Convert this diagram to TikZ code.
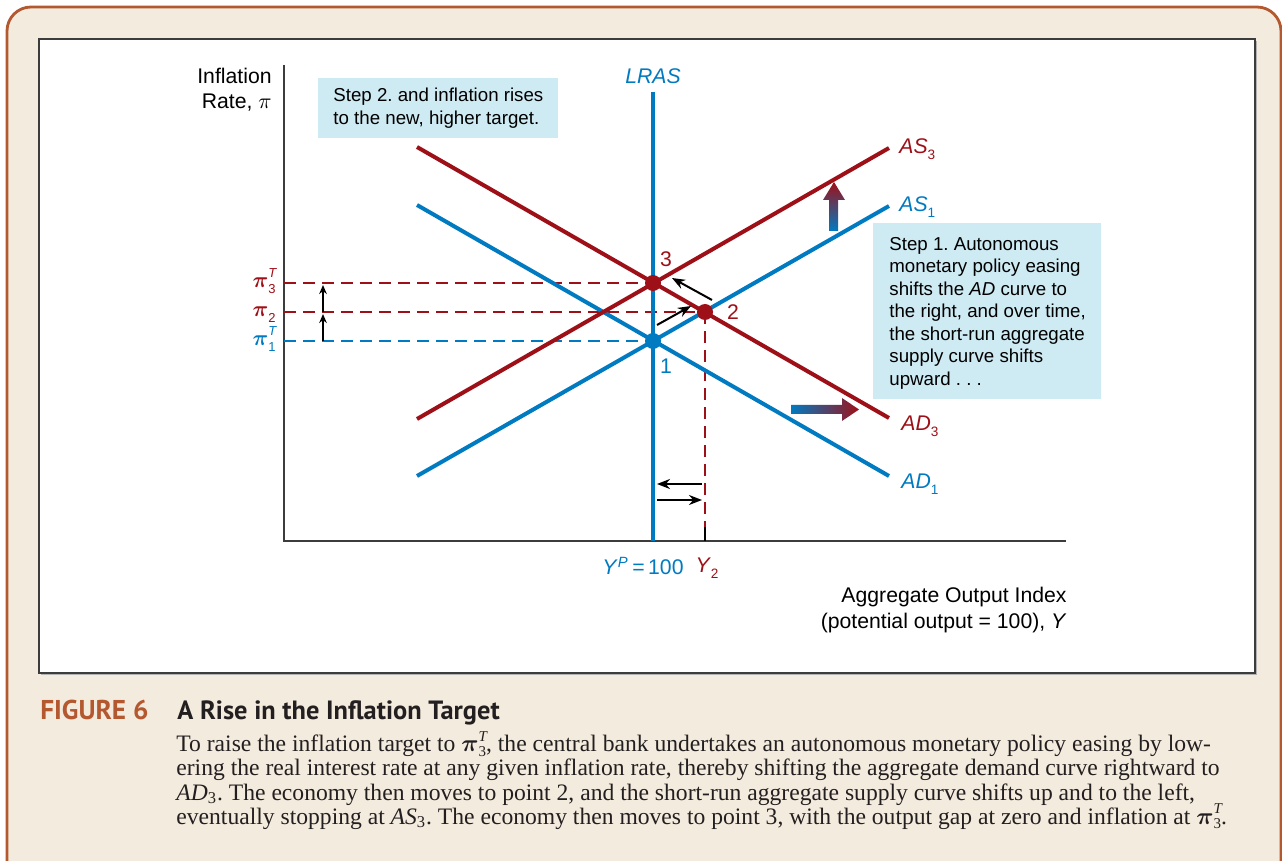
\documentclass[tikz,border=0pt]{standalone}
\usepackage{fontspec}
\usepackage{amsmath}
\usepackage{bm}
\setmainfont{Liberation Sans}
\newfontfamily\capserif{Liberation Serif}
\newfontfamily\capsans{PT Sans}
\usetikzlibrary{arrows.meta}
\definecolor{cblue}{RGB}{0,122,192}
\definecolor{cred}{RGB}{158,16,24}
\definecolor{boxblue}{RGB}{206,234,242}
\definecolor{beige}{RGB}{243,235,221}
\definecolor{framebrown}{RGB}{180,88,48}
\definecolor{axisgray}{RGB}{60,60,60}
\definecolor{captext}{RGB}{35,31,32}
\newcommand\lowsub[1]{\raisebox{-0.55ex}{\fontsize{6.8}{7}\selectfont #1}}
\newcommand\pilab[2]{$\bm{\pi}$\rlap{\raisebox{0.95ex}{\fontsize{6.5}{7}\selectfont\itshape #1}}\raisebox{-0.5ex}{\fontsize{6.5}{7}\selectfont #2}}
\newcommand\capi{$\bm{\pi}$\rlap{\raisebox{0.95ex}{\fontsize{7.5}{8}\selectfont\itshape T}}\raisebox{-0.4ex}{\fontsize{7.5}{8}\selectfont 3}}
\frenchspacing
\begin{document}
\begin{tikzpicture}[x=0.5pt,y=-0.5pt,
  curve/.style={line width=2pt},
  guide/.style={line width=0.8pt, dash pattern=on 6pt off 3.5pt},
  dot/.style={circle, inner sep=0pt, minimum size=8pt},
  lbl/.style={font=\fontsize{10.6}{12.7}\selectfont, inner sep=0pt},
  boxfill/.style={fill=boxblue, inner sep=0pt, anchor=north west},
  steptext/.style={font=\fontsize{9.35}{11.25}\selectfont, align=left, inner sep=0pt, anchor=west},
  smallarr/.style={line width=1pt, -{Stealth[length=6.5pt,width=5pt]}},
  tinyarr/.style={line width=1pt, -{Stealth[length=4.5pt,width=3.8pt]}},
  capline/.style={anchor=base west, inner sep=0pt, text=captext, font=\capserif\fontsize{11.8}{12}\selectfont}
]
\useasboundingbox (0,0) rectangle (1282,861);
\fill[white] (0,0) rectangle (1282,861);
% outer frame
\draw[framebrown, line width=1.4pt, fill=beige, rounded corners=12pt] (7,7) rectangle (1281,900);
% inner panel
\fill[black!30] (41,41) rectangle (1257,675);
\draw[axisgray, line width=0.9pt, fill=white] (39,39) rectangle (1255,673);

% axes
\coordinate (ytop) at (284,65);
\coordinate (origin) at (284,541);
\coordinate (xend) at (1066,541);
\draw[axisgray, line width=1pt] (ytop) -- (origin) -- (xend);

% curve end points
\coordinate (as1a) at (417,476); \coordinate (as1b) at (889,206);
\coordinate (as3a) at (417,419); \coordinate (as3b) at (889,148);
\coordinate (ad1a) at (417,205); \coordinate (ad1b) at (889,476);
\coordinate (ad3a) at (417,147); \coordinate (ad3b) at (889,418);
\coordinate (lrasT) at (653,92); \coordinate (lrasB) at (653,541);

% points
\coordinate (c1) at (653,341);
\coordinate (c3) at (653,283);
\coordinate (c2) at (705,312);

% step boxes
\node[boxfill, minimum width=120pt, minimum height=30pt] (step2box) at (318,78) {};
\node[boxfill, minimum width=114pt, minimum height=88pt] (step1box) at (873,223) {};
\node[steptext] (step2) at (333,108) {Step 2. and inflation rises\\to the new, higher target.};
\node[steptext] (step1) at (889,313) {Step 1. Autonomous\\monetary policy easing\\shifts the \textit{AD} curve to\\the right, and over time,\\the short-run aggregate\\supply curve shifts\\upward . . .};

% guides
\coordinate (y3) at (284,283);
\coordinate (y2) at (284,312);
\coordinate (y1) at (284,341);
\coordinate (x2) at (705,541);
\draw[guide, cred] (y3) -- (c3);
\draw[guide, cred] (y2) -- (c2);
\draw[guide, cblue] (y1) -- (c1);
\draw[guide, cred] (c2) -- (x2);
\coordinate (x2t) at (705,527);
\draw[line width=0.8pt, black] (x2t) -- (x2);

% curves
\draw[curve, cblue] (ad1a) -- (ad1b);
\draw[curve, cblue] (as1a) -- (as1b);
\draw[curve, cred] (ad3a) -- (ad3b);
\draw[curve, cred] (as3a) -- (as3b);
\draw[curve, cblue] (lrasT) -- (lrasB);

% dots
\node[dot, fill=cblue] (p1) at (c1) {};
\node[dot, fill=cred] (p3) at (c3) {};
\node[dot, fill=cred] (p2) at (c2) {};

% point labels
\node[lbl, text=cred] (l3) at (666,259) {3};
\node[lbl, text=cred] (l2) at (733,312) {2};
\node[lbl, text=cblue] (l1) at (666,366) {1};

% curve labels
\node[lbl, anchor=west, text=cred] (las3) at (899,149) {\textit{AS}\lowsub{3}};
\node[lbl, anchor=west, text=cblue] (las1) at (899,207) {\textit{AS}\lowsub{1}};
\node[lbl, anchor=west, text=cred] (lad3) at (901,426) {\textit{AD}\lowsub{3}};
\node[lbl, anchor=west, text=cblue] (lad1) at (901,484) {\textit{AD}\lowsub{1}};
\node[lbl, text=cblue] (llras) at (653,76) {\textit{LRAS}};

% axis labels
\node[lbl, anchor=east] (inf1) at (272,76) {Inflation};
\node[lbl, anchor=east] (inf2) at (272,103) {Rate, $\pi$};
\node[lbl, anchor=east] (agg1) at (1067,597) {Aggregate Output Index};
\node[lbl, anchor=east] (agg2) at (1067,623) {(potential output = 100), \textit{Y}};
\node[lbl, text=cblue] (yp) at (643,566) {\textit{Y}\textsuperscript{\textit{P}}\,=\,100};
\node[lbl, text=cred] (y2l) at (707,568) {\textit{Y}\lowsub{2}};

% pi labels
\node[lbl, anchor=base east, text=cred] (pi3) at (276,288) {\pilab{T}{3}};
\node[lbl, anchor=base east, text=cred] (pi2) at (276,317) {\pilab{}{2}};
\node[lbl, anchor=base east, text=cblue] (pi1) at (276,346) {\pilab{T}{1}};

% small up arrows
\coordinate (ua1) at (323,341); \coordinate (ua1t) at (323,314);
\coordinate (ua2) at (323,312); \coordinate (ua2t) at (323,285);
\draw[tinyarr] (ua1) -- (ua1t);
\draw[tinyarr] (ua2) -- (ua2t);

% movement arrows
\coordinate (m1a) at (657,325); \coordinate (m1b) at (691,306);
\coordinate (m2a) at (712,300); \coordinate (m2b) at (672,278);
\draw[smallarr] (m1a) -- (m1b);
\draw[smallarr] (m2a) -- (m2b);
\coordinate (h1a) at (702,484); \coordinate (h1b) at (657,484);
\coordinate (h2a) at (657,500); \coordinate (h2b) at (702,500);
\draw[smallarr] (h1a) -- (h1b);
\draw[smallarr] (h2a) -- (h2b);

% gradient arrows
\shade[top color=cred, bottom color=cblue] (829,231) -- (829,200) -- (823,200) -- (834,182) -- (845,200) -- (838,200) -- (838,231) -- cycle;
\shade[left color=cblue, right color=cred] (791,405) -- (842,405) -- (842,398) -- (859,409.5) -- (842,421) -- (842,414) -- (791,414) -- cycle;

% caption
\node[anchor=base west, inner sep=0pt, text=framebrown, font=\capsans\bfseries\fontsize{13.6}{15}\selectfont] (fig) at (40,719) {FIGURE 6};
\node[anchor=base west, inner sep=0pt, text=captext, font=\capsans\bfseries\fontsize{13.2}{15}\selectfont] (title) at (177,719) {A Rise in the Inflation Target};
\node[capline] (cap1) at (176,752) {To raise the inflation target to \capi, the central bank undertakes an autonomous monetary policy easing by low-};
\node[capline] (cap2) at (176,776) {ering the real interest rate at any given inflation rate, thereby shifting the aggregate demand curve rightward to};
\node[capline] (cap3) at (176,800) {\textit{AD}\textsubscript{3}. The economy then moves to point 2, and the short-run aggregate supply curve shifts up and to the left,};
\node[capline] (cap4) at (176,824) {eventually stopping at \textit{AS}\textsubscript{3}. The economy then moves to point 3, with the output gap at zero and inflation at \capi.};
\end{tikzpicture}
\end{document}
